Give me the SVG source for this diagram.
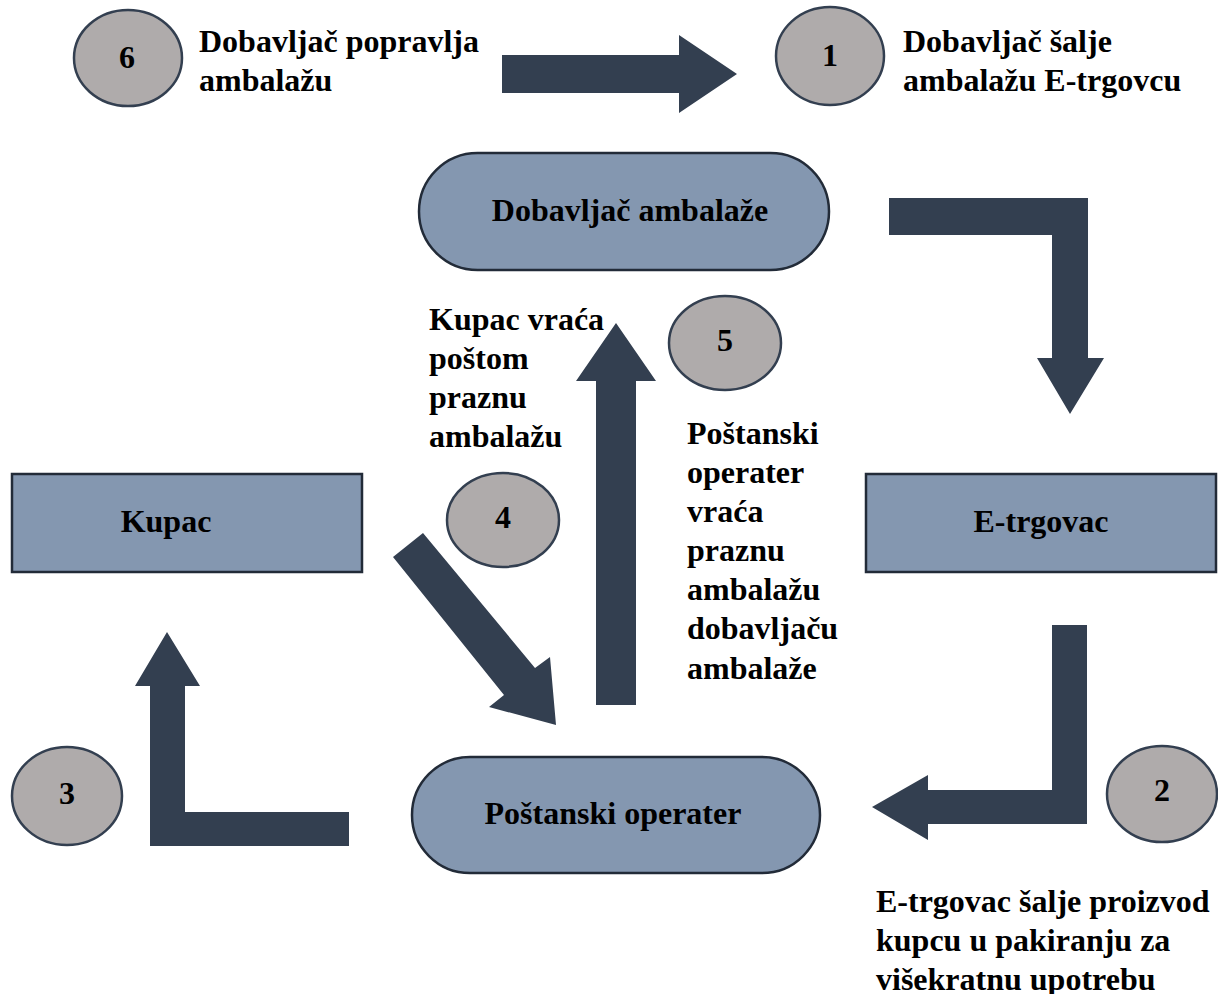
<svg xmlns="http://www.w3.org/2000/svg" width="1218" height="994" viewBox="0 0 1218 994">
<style>
.t{font-family:'Liberation Serif','Times New Roman',Tinos,'DejaVu Serif',serif;font-weight:700;font-size:32px;fill:#000}
.n{font-family:'Liberation Serif','Times New Roman',Tinos,'DejaVu Serif',serif;font-weight:700;font-size:32px;fill:#000;text-anchor:middle}
.c{text-anchor:middle}
.node{fill:#8497B0;stroke:#222B38;stroke-width:2.5}
.circ{fill:#AFABAB;stroke:#333F50;stroke-width:2.5}
.arr{fill:#333F50;stroke:none}
</style>
<rect width="1218" height="994" fill="#fff"/>
<g id="connectors">
<polygon class="arr" points="502,55 679,55 679,35 737,74 679,113 679,93 502,93"/>
<polygon class="arr" points="889,198 1088,198 1088,358 1104,358 1070,414 1037,358 1052,358 1052,235 889,235"/>
<polygon class="arr" points="1052,625 1087,625 1087,824 928,824 928,840 872,807 928,775 928,790 1052,790"/>
<polygon class="arr" points="349,812 349,846 150,846 150,686 135,686 167,632 200,686 185,686 185,812"/>
<polygon class="arr" points="596,705 596,381 576,381 616,323 656,381 636,381 636,705"/>
<polygon class="arr" points="393,557 423,533 535,668 550,657 556,725 489,707 504,695"/>
</g>
<g id="node-dobavljac">
<rect class="node" x="419" y="153" width="410" height="117" rx="58.5"/>
<text class="t c" x="630" y="221">Dobavljač ambalaže</text>
</g>
<g id="node-postanski">
<rect class="node" x="412" y="757" width="408" height="116" rx="58"/>
<text class="t c" x="613" y="824">Poštanski operater</text>
</g>
<g id="node-kupac">
<rect class="node" x="12" y="474" width="350" height="98"/>
<text class="t c" x="166" y="532">Kupac</text>
</g>
<g id="node-etrgovac">
<rect class="node" x="866" y="474" width="350" height="98"/>
<text class="t c" x="1041" y="532">E-trgovac</text>
</g>
<g id="step-6">
<ellipse class="circ" cx="128" cy="58" rx="54" ry="48"/>
<text class="n" x="127" y="68">6</text>
<text class="t" x="199" y="52">Dobavljač popravlja</text>
<text class="t" x="199" y="91">ambalažu</text>
</g>
<g id="step-1">
<ellipse class="circ" cx="830" cy="56" rx="54" ry="49"/>
<text class="n" x="830" y="66">1</text>
<text class="t" x="903" y="52">Dobavljač šalje</text>
<text class="t" x="903" y="91">ambalažu E-trgovcu</text>
</g>
<g id="step-5">
<ellipse class="circ" cx="725" cy="343" rx="56" ry="47"/>
<text class="n" x="725" y="351">5</text>
<text class="t" x="687" y="444">Poštanski</text>
<text class="t" x="687" y="483">operater</text>
<text class="t" x="687" y="522">vraća</text>
<text class="t" x="687" y="561">praznu</text>
<text class="t" x="687" y="600">ambalažu</text>
<text class="t" x="687" y="639">dobavljaču</text>
<text class="t" x="687" y="679">ambalaže</text>
</g>
<g id="step-4">
<ellipse class="circ" cx="503" cy="520" rx="56" ry="47"/>
<text class="n" x="503" y="528">4</text>
<text class="t" x="429" y="330">Kupac vraća</text>
<text class="t" x="429" y="369">poštom</text>
<text class="t" x="429" y="408">praznu</text>
<text class="t" x="429" y="447">ambalažu</text>
</g>
<g id="step-3">
<ellipse class="circ" cx="67" cy="796" rx="55" ry="49"/>
<text class="n" x="67" y="804">3</text>
</g>
<g id="step-2">
<ellipse class="circ" cx="1162" cy="794" rx="55" ry="48"/>
<text class="n" x="1162" y="801">2</text>
<text class="t" x="876" y="912">E-trgovac šalje proizvod</text>
<text class="t" x="876" y="951">kupcu u pakiranju za</text>
<text class="t" x="876" y="990">višekratnu upotrebu</text>
</g>
</svg>
